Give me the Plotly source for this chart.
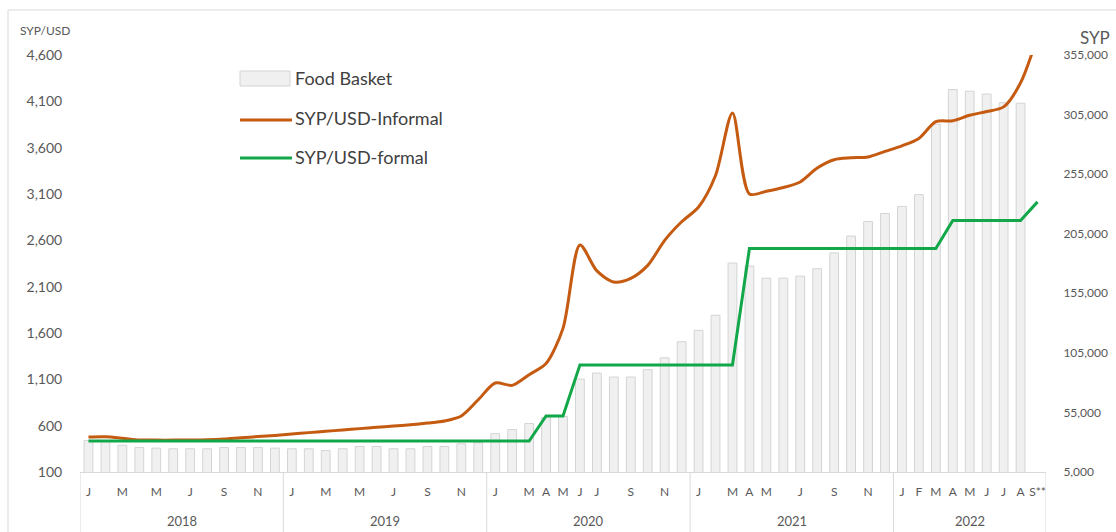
import plotly.graph_objects as go

# ---------------- data ----------------
years = ["2018", "2019", "2020", "2021", "2022"]
month_names = ["Jan", "Feb", "Mar", "Apr", "May", "Jun", "Jul", "Aug", "Sep", "Oct", "Nov", "Dec"]
categories = [f"{m} {y}" for y in years[:4] for m in month_names] + [f"{m} 2022" for m in month_names[:9]]

month_labels = (
    ["J", "", "M", "", "M", "", "J", "", "S", "", "N", ""] +
    ["J", "", "M", "", "M", "", "J", "", "S", "", "N", ""] +
    ["J", "", "M", "A", "M", "J", "J", "", "S", "", "N", ""] +
    ["J", "", "M", "A", "M", "", "J", "", "S", "", "N", ""] +
    ["J", "F", "M", "A", "M", "J", "J", "A", "S**"]
)

food_basket = [
    31500, 31000, 27500, 25500, 25000, 24500, 24500, 24500, 25500, 25500, 25500, 25000,
    24500, 24500, 23000, 24500, 26400, 26400, 24500, 24500, 26400, 26400, 28700, 29600,
    37200, 40600, 45700, 50800, 51600, 83000, 88000, 84700, 84700, 90900, 100800, 114300,
    123900, 136600, 180400, 177900, 167700, 167700, 169400, 175600, 188900, 203000, 215200, 222000,
    227900, 237800, 297000, 326000, 324600, 322200, 315000, 314500, None,
]

informal = [
    478, 480, 465, 446, 444, 444, 445, 448, 456, 470, 482, 495,
    510, 525, 540, 553, 568, 582, 596, 610, 628, 650, 705, 880,
    1060, 1035, 1150, 1270, 1650, 2550, 2270, 2150, 2190, 2330, 2600, 2800,
    2960, 3300, 3975, 3100, 3130, 3170, 3230, 3380, 3470, 3490, 3500, 3560,
    3620, 3700, 3880, 3890, 3950, 3990, 4040, 4300, 4800,
]

formal = [434] * 27 + [704] * 2 + [1256] * 10 + [2512] * 12 + [2814] * 5 + [3015]

left_ticks = list(range(100, 4601, 500))
right_ticks = list(range(5000, 355001, 50000))

# ---------------- style ----------------
W, H = 1116, 532
L, R, T, B = 80, 1046, 55, 472
FONT = "Lato"
ORANGE = "#C55A11"
GREEN = "#12A84A"
GRID = "#D9D9D9"
TXT = "#595959"


def px(x):
    return (x - L) / (R - L)


def py(y):
    return (B - y) / (B - T)


fig = go.Figure()
fig.add_trace(go.Bar(
    x=categories, y=food_basket, name="Food Basket", yaxis="y",
    marker=dict(color="#F0F0F0", line=dict(color="#D4D4D4", width=1)),
    width=0.52, showlegend=False,
))
fig.add_trace(go.Scatter(
    x=categories, y=informal, name="SYP/USD-Informal", yaxis="y2", mode="lines",
    line=dict(color=ORANGE, width=3, shape="spline", smoothing=0.8), showlegend=False,
))
fig.add_trace(go.Scatter(
    x=categories, y=formal, name="SYP/USD-formal", yaxis="y2", mode="lines",
    line=dict(color=GREEN, width=3), showlegend=False,
))

shapes = []
# year dividers below axis
for b in [-0.5, 11.5, 23.5, 35.5, 47.5, 56.5]:
    shapes.append(dict(type="line", xref="x", yref="paper", x0=b, x1=b, y0=0, y1=-0.2,
                       line=dict(color=GRID, width=1)))
# outer frame
shapes.append(dict(type="rect", xref="paper", yref="paper", x0=px(8), x1=px(1140), y0=py(10), y1=py(560),
                   line=dict(color=GRID, width=1), fillcolor="rgba(0,0,0,0)", layer="below"))
# legend symbols
shapes.append(dict(type="rect", xref="paper", yref="paper", x0=px(240), x1=px(290), y0=py(71), y1=py(86),
                   fillcolor="#F0F0F0", line=dict(color="#D4D4D4", width=1)))
shapes.append(dict(type="line", xref="paper", yref="paper", x0=px(240), x1=px(292), y0=py(120), y1=py(120),
                   line=dict(color=ORANGE, width=3)))
shapes.append(dict(type="line", xref="paper", yref="paper", x0=px(240), x1=px(292), y0=py(158), y1=py(158),
                   line=dict(color=GREEN, width=3)))

annotations = []
year_centers = [5.5, 17.5, 29.5, 41.5, 52]
for yr, c in zip(years, year_centers):
    annotations.append(dict(x=c, y=py(521), xref="x", yref="paper", text=yr, showarrow=False,
                            font=dict(family=FONT, size=13, color=TXT), xanchor="center", yanchor="middle"))
legend_items = [("Food Basket", 78), ("SYP/USD-Informal", 118), ("SYP/USD-formal", 157)]
for txt, yy in legend_items:
    annotations.append(dict(x=px(293), y=py(yy), xref="paper", yref="paper", text=txt, showarrow=False,
                            font=dict(family=FONT, size=18, color="#404040"), xanchor="left", yanchor="middle"))
annotations.append(dict(x=px(18), y=py(31), xref="paper", yref="paper", text="SYP/USD", showarrow=False,
                        font=dict(family=FONT, size=12, color=TXT), xanchor="left", yanchor="middle"))
annotations.append(dict(x=px(1078), y=py(37), xref="paper", yref="paper", text="SYP", showarrow=False,
                        font=dict(family=FONT, size=17, color=TXT), xanchor="left", yanchor="middle"))

fig.update_layout(
    width=W, height=H,
    margin=dict(l=L, r=W - R, t=T, b=H - B, autoexpand=False),
    paper_bgcolor="white", plot_bgcolor="white",
    bargap=0.4, showlegend=False,
    font=dict(family=FONT, color=TXT),
    xaxis=dict(
        type="category", categoryorder="array", categoryarray=categories,
        range=[-0.5, 56.5], tickmode="array", tickvals=categories, ticktext=month_labels,
        tickangle=0, showline=True, linecolor=GRID, linewidth=1, showgrid=False,
        ticks="outside", ticklen=9, tickcolor="rgba(0,0,0,0)",
        tickfont=dict(family=FONT, size=12, color=TXT), fixedrange=True,
    ),
    yaxis=dict(
        side="right", range=[5000, 355000], tickmode="array", tickvals=right_ticks,
        tickformat=",", showgrid=False, zeroline=False, showline=False,
        ticks="outside", ticklen=14, tickcolor="rgba(0,0,0,0)",
        tickfont=dict(family=FONT, size=12, color=TXT), automargin=False,
    ),
    yaxis2=dict(
        overlaying="y", side="left", range=[100, 4600], tickmode="array", tickvals=left_ticks,
        tickformat=",", showgrid=False, zeroline=False, showline=False,
        ticks="outside", ticklen=14, tickcolor="rgba(0,0,0,0)",
        tickfont=dict(family=FONT, size=14, color=TXT), automargin=False,
    ),
    shapes=shapes, annotations=annotations,
)

fig.write_html(
    "out.html",
    config={"displayModeBar": False},
    post_script="document.body.style.margin='0';document.body.style.overflow='hidden';",
)
